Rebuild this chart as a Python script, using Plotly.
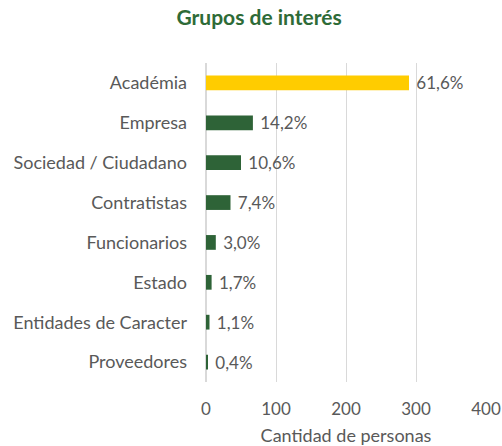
import plotly.graph_objects as go

categories = ["Académia", "Empresa", "Sociedad / Ciudadano", "Contratistas",
              "Funcionarios", "Estado", "Entidades de Caracter", "Proveedores"]
counts = [290, 67, 50, 35, 14, 8, 5, 2]
pct_labels = ["61,6%", "14,2%", "10,6%", "7,4%", "3,0%", "1,7%", "1,1%", "0,4%"]
x_ticks = [0, 100, 200, 300, 400]

colors = ["#FFCC00"] + ["#2E6337"] * (len(categories) - 1)

fig = go.Figure(go.Bar(
    y=categories, x=counts, orientation="h",
    marker=dict(color=colors, line=dict(width=0)),
    width=0.37,
    text=["\u00a0" + t for t in pct_labels], textposition="outside",
    constraintext="none",
    textfont=dict(size=17, color="#595959", family="Lato"),
    cliponaxis=False,
))

fig.update_layout(
    width=502, height=446,
    margin=dict(l=206, r=16, t=63, b=64, autoexpand=False),
    paper_bgcolor="white", plot_bgcolor="white",
    font=dict(family="Lato", size=17, color="#595959"),
    title=dict(text="<b>Grupos de interés</b>", x=0.516, xanchor="center",
               xref="container",
               y=1 - 18 / 446, yanchor="middle",
               font=dict(size=21, color="#2E6B37", family="Lato")),
    showlegend=False,
    bargap=0.6,
)
fig.update_xaxes(range=[0, 400], tickvals=x_ticks, showgrid=True,
                 gridcolor="#D9D9D9", gridwidth=1, zeroline=True,
                 zerolinecolor="#D9D9D9", showline=False, automargin=False,
                 ticks="", ticklabelstandoff=15,
                 title=dict(text="Cantidad de personas", standoff=11,
                            font=dict(size=18, color="#595959")),
                 tickfont=dict(size=17, color="#595959"))
fig.update_yaxes(autorange="reversed", showgrid=False, ticks="", automargin=False,
                 ticklabelstandoff=18, tickfont=dict(size=18, color="#595959"))

fig.write_html("out.html", config={"displayModeBar": False},
               post_script="document.body.style.margin='0';")
